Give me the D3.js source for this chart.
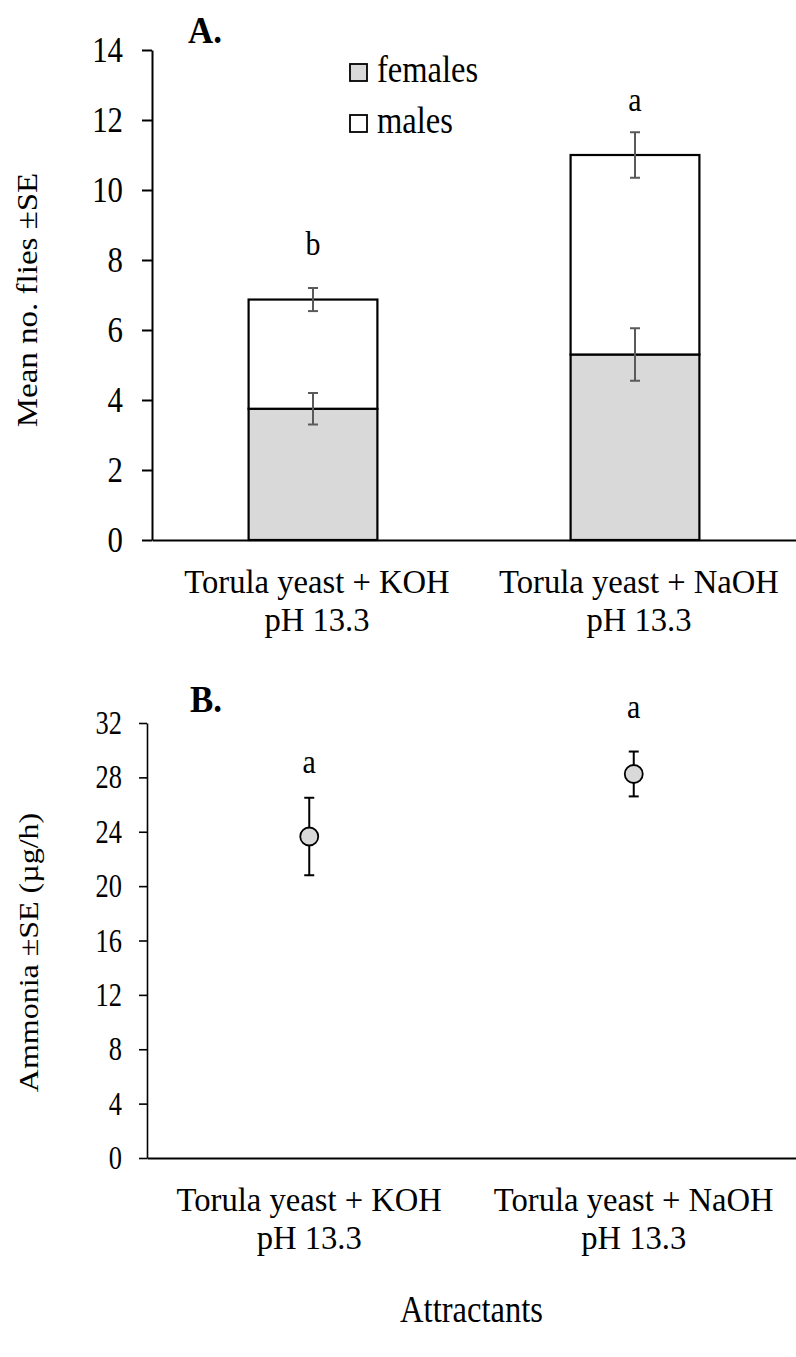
<!DOCTYPE html>
<html><head><meta charset="utf-8">
<script src="https://cdn.jsdelivr.net/npm/d3@7"></script>
<style>
body{margin:0;background:#fff}
svg text{font-family:"Liberation Serif","Times New Roman",serif;fill:#000}
</style>
</head><body>
<svg id="c" width="796" height="1357"></svg>
<script>
// ---- data ----
const categories = ["Torula yeast + KOH", "Torula yeast + NaOH"];
const categorySub = ["pH 13.3", "pH 13.3"];
const seriesNames = ["females", "males"];
const females = [3.75, 5.3];
const femalesSE = [0.45, 0.75];
const males = [3.12, 5.7];
const totalSE = [0.33, 0.65];
const lettersA = ["b", "a"];
const lettersAPos = [8.15, 12.25];
const ammonia = [23.65, 28.25];
const ammoniaSE = [2.85, 1.65];
const lettersB = ["a", "a"];
const lettersBPos = [28.3, 32.4];
const ticksA = [0, 2, 4, 6, 8, 10, 12, 14];
const ticksB = [0, 4, 8, 12, 16, 20, 24, 28, 32];

const FONT = '"Liberation Serif","Times New Roman",serif';
const K = 0.88; // horizontal condensation of the reference lettering
const svg = d3.select("#c");
const seriesFill = {females: "#d9d9d9", males: "#ffffff"};

function htext(g, x, y, size, str, anchor, k) {
  return g.append("text")
    .attr("transform", `translate(${x},${y}) scale(${k || K},1)`)
    .attr("text-anchor", anchor || "start").attr("font-size", size).text(str);
}
function twoLine(g, x, y, size, l1, l2, gap) {
  const t = g.append("text")
    .attr("transform", `translate(${x},${y}) scale(0.96,1)`)
    .attr("text-anchor", "middle").attr("font-size", size);
  t.append("tspan").attr("x", 0).attr("y", 0).text(l1);
  t.append("tspan").attr("x", 0).attr("y", gap).text(l2);
  return t;
}
function errBar(g, x, y0, y1, cap, color, w) {
  g.append("line").attr("x1", x).attr("x2", x).attr("y1", y0).attr("y2", y1)
    .attr("stroke", color).attr("stroke-width", w);
  [y0, y1].forEach(yy => g.append("line").attr("x1", x - cap).attr("x2", x + cap)
    .attr("y1", yy).attr("y2", yy).attr("stroke", color).attr("stroke-width", w));
}

// ================= Panel A =================
const A = {left: 152, right: 796, top: 50, bottom: 540};
const xA = d3.scaleBand().domain(categories).range([A.left, A.right])
  .paddingInner(0.6).paddingOuter(0.3);
const yA = d3.scaleLinear().domain([0, 14]).range([A.bottom, A.top]);

const gA = svg.append("g");
const yAxA = gA.append("g").attr("transform", `translate(${A.left},0)`)
  .call(d3.axisLeft(yA).tickValues(ticksA).tickSize(10).tickSizeOuter(0).tickPadding(20));
yAxA.selectAll("text").attr("font-family", FONT).attr("font-size", 35).attr("fill", "#000")
  .attr("x", -29 / K).attr("transform", `scale(${K},1)`);
yAxA.selectAll("line,path").attr("stroke", "#000").attr("stroke-width", 2);

const stackData = categories.map((c, i) => ({cat: c, females: females[i], males: males[i]}));
const stacked = d3.stack().keys(seriesNames)(stackData);
stacked.forEach(layer => {
  gA.append("g").selectAll("rect").data(layer).join("rect")
    .attr("x", d => xA(d.data.cat))
    .attr("width", xA.bandwidth())
    .attr("y", d => yA(d[1]))
    .attr("height", d => yA(d[0]) - yA(d[1]))
    .attr("fill", seriesFill[layer.key])
    .attr("stroke", "#000").attr("stroke-width", 2.2);
});

gA.append("g").attr("transform", `translate(0,${A.bottom})`)
  .call(d3.axisBottom(xA).tickSize(0).tickSizeOuter(0).tickFormat(""))
  .selectAll("path").attr("stroke", "#000").attr("stroke-width", 2);

categories.forEach((c, i) => {
  const cx = xA(c) + xA.bandwidth() / 2;
  errBar(gA, cx, yA(females[i] - femalesSE[i]), yA(females[i] + femalesSE[i]), 5, "#5a5a5a", 2);
  const tot = females[i] + males[i];
  errBar(gA, cx, yA(tot - totalSE[i]), yA(tot + totalSE[i]), 5, "#5a5a5a", 2);
  htext(gA, cx, yA(lettersAPos[i]), 34, lettersA[i], "middle");
});

categories.forEach((c, i) => {
  const cx = xA(c) + xA.bandwidth() / 2 + 4;
  twoLine(gA, cx, A.bottom + 53, 34, c, categorySub[i], 38);
});

seriesNames.forEach((s, i) => {
  const ly = 82 + i * 51;
  gA.append("rect").attr("x", 350).attr("y", ly - 18).attr("width", 17).attr("height", 17)
    .attr("fill", seriesFill[s]).attr("stroke", "#000").attr("stroke-width", 1.8);
  htext(gA, 377, ly, 37, s, "start");
});

gA.append("text").attr("transform", `translate(37,${(A.top + A.bottom) / 2 + 5}) scale(${K},1) rotate(-90)`)
  .attr("text-anchor", "middle").attr("font-size", 33).text("Mean no. flies \u00B1SE");
gA.append("text").attr("transform", `translate(188,43) scale(0.92,1)`)
  .attr("font-size", 38).attr("font-weight", "bold").text("A.");

// ================= Panel B =================
const B = {left: 147, right: 796, top: 723, bottom: 1158};
const xB = d3.scalePoint().domain(categories).range([B.left, B.right]).padding(0.5);
const yB = d3.scaleLinear().domain([0, 32]).range([B.bottom, B.top]);
const gB = svg.append("g");
const KB = 0.8;
const yAxB = gB.append("g").attr("transform", `translate(${B.left},0)`)
  .call(d3.axisLeft(yB).tickValues(ticksB).tickSize(8).tickSizeOuter(0).tickPadding(17));
yAxB.selectAll("text").attr("font-family", FONT).attr("font-size", 33).attr("fill", "#000")
  .attr("x", -25 / KB).attr("transform", `scale(${KB},1)`);
yAxB.selectAll("line,path").attr("stroke", "#000").attr("stroke-width", 1.6);

gB.append("g").attr("transform", `translate(0,${B.bottom})`)
  .call(d3.axisBottom(xB).tickSize(0).tickSizeOuter(0).tickFormat(""))
  .selectAll("path").attr("stroke", "#000").attr("stroke-width", 2);

categories.forEach((c, i) => {
  const cx = xB(c);
  errBar(gB, cx, yB(ammonia[i] - ammoniaSE[i]), yB(ammonia[i] + ammoniaSE[i]), 5, "#000", 2);
  gB.append("circle").attr("cx", cx).attr("cy", yB(ammonia[i])).attr("r", 9)
    .attr("fill", "#d9d9d9").attr("stroke", "#000").attr("stroke-width", 1.8);
  htext(gB, cx, yB(lettersBPos[i]), 34, lettersB[i], "middle");
});

categories.forEach((c, i) => {
  twoLine(gB, xB(c), B.bottom + 53, 34, c, categorySub[i], 38);
});

gB.append("text").attr("transform", `translate(38,${(B.top + B.bottom) / 2 + 12}) scale(${K},1) rotate(-90)`)
  .attr("text-anchor", "middle").attr("font-size", 32).text("Ammonia \u00B1SE (\u00B5g/h)");
gB.append("text").attr("transform", `translate(190,712) scale(0.92,1)`)
  .attr("font-size", 38).attr("font-weight", "bold").text("B.");

htext(svg, (B.left + B.right) / 2, 1322, 37, "Attractants", "middle");
</script>
</body></html>
